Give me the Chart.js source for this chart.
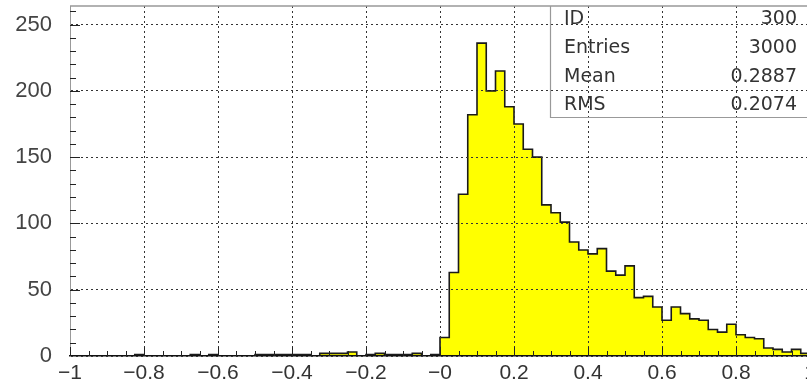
<!DOCTYPE html>
<html>
<head>
<meta charset="utf-8">
<script src="https://cdn.jsdelivr.net/npm/chart.js@4/dist/chart.umd.min.js"></script>
<style>
  html, body { margin: 0; padding: 0; overflow: hidden; background: #fff; }
</style>
</head>
<body>
<canvas id="hist" width="812" height="385"></canvas>
<script>
// histogram 300: 80 bins of 0.025 between -1 and 1
const xLow = -1;
const xHigh = 1;
const binWidth = 0.025;
const counts = [
  0, 0, 0, 0, 0, 0, 0, 1, 0, 0,
  0, 0, 0, 1, 0, 1, 0, 0, 0, 0,
  1, 1, 1, 1, 1, 1, 0, 2, 2, 2,
  3, 0, 1, 2, 1, 1, 1, 2, 0, 1,
  14, 63, 122, 182, 236, 200, 215, 188, 175, 156,
  150, 114, 108, 101, 86, 80, 77, 81, 64, 61,
  68, 44, 45, 37, 27, 37, 32, 28, 27, 20,
  18, 24, 16, 14, 13, 6, 5, 3, 5, 2
];
const xTickValues = [-1, -0.8, -0.6, -0.4, -0.2, 0, 0.2, 0.4, 0.6, 0.8, 1];
const xTickLabels = ['\u22121', '\u22120.8', '\u22120.6', '\u22120.4', '\u22120.2', '\u22120', '0.2', '0.4', '0.6', '0.8', '1'];
const yTickValues = [0, 50, 100, 150, 200, 250];
const yMax = 264;
const statNames = ['ID', 'Entries', 'Mean', 'RMS'];
const statValues = ['300', '3000', '0.2887', '0.2074'];

// step outline points: left edge of every bin, plus the right edge of the last one
const stepData = counts.map((c, i) => ({x: xLow + i * binWidth, y: c}));
stepData.push({x: xHigh, y: counts[counts.length - 1]});

// ticks inside the frame, top frame line and the stats box
const frameAndStats = {
    id: 'frameAndStats',
    afterDraw(chart) {
        const {ctx, chartArea: a, scales: {x, y}} = chart;
        ctx.save();
        ctx.strokeStyle = '#222';
        ctx.lineWidth = 1;
        ctx.beginPath();
        for (let i = 0; i <= 40; i++) {
            const px = Math.round(x.getPixelForValue(xLow + i * 0.05)) + 0.5;
            const len = i % 4 === 0 ? 9 : 5;
            ctx.moveTo(px, a.bottom);
            ctx.lineTo(px, a.bottom - len);
        }
        for (let v = 10; v < yMax; v += 10) {
            const py = Math.round(y.getPixelForValue(v)) + 0.5;
            const len = v % 50 === 0 ? 10 : 6;
            ctx.moveTo(a.left, py);
            ctx.lineTo(a.left + len, py);
        }
        ctx.stroke();

        ctx.strokeStyle = '#999';
        ctx.lineWidth = 1.5;
        ctx.beginPath();
        ctx.moveTo(a.left, a.top);
        ctx.lineTo(a.right, a.top);
        ctx.stroke();

        // stats box (only left and bottom edges are inside the picture)
        const boxLeft = 550.5, boxBottom = 117.5;
        ctx.lineWidth = 1.2;
        ctx.beginPath();
        ctx.moveTo(boxLeft, a.top);
        ctx.lineTo(boxLeft, boxBottom);
        ctx.lineTo(a.right, boxBottom);
        ctx.stroke();

        ctx.fillStyle = '#333';
        ctx.font = '19px "DejaVu Sans"';
        ctx.textBaseline = 'middle';
        const rowY = [19, 48, 77, 105];
        statNames.forEach((name, i) => {
            ctx.textAlign = 'left';
            ctx.fillText(name, 564, rowY[i]);
            ctx.textAlign = 'right';
            ctx.fillText(statValues[i], 797, rowY[i]);
        });
        ctx.restore();
    }
};

new Chart(document.getElementById('hist'), {
    type: 'line',
    data: {
        datasets: [{
            data: stepData,
            stepped: 'before',
            fill: 'origin',
            backgroundColor: '#ffff00',
            borderColor: '#1a1a1a',
            borderWidth: 1.6,
            pointRadius: 0
        }]
    },
    options: {
        responsive: false,
        animation: false,
        layout: { padding: { top: 6, right: 2, left: 0, bottom: 0 } },
        plugins: {
            legend: { display: false },
            tooltip: { enabled: false }
        },
        scales: {
            x: {
                type: 'linear',
                min: xLow,
                max: xHigh,
                afterBuildTicks: s => { s.ticks = xTickValues.map(v => ({value: v})); },
                afterFit: s => { s.height = 29; s.paddingLeft = 0; s.paddingRight = 0; },
                ticks: {
                    autoSkip: false,
                    maxRotation: 0,
                    padding: 5,
                    color: '#333',
                    font: { family: 'Liberation Sans', size: 21 },
                    callback: (v, i) => xTickLabels[i]
                },
                grid: { color: '#333', lineWidth: 1, drawTicks: false, z: 1 },
                border: { color: '#111', width: 1.6, dash: [2, 3], z: 1 }
            },
            y: {
                min: 0,
                max: yMax,
                afterBuildTicks: s => { s.ticks = yTickValues.map(v => ({value: v})); },
                afterFit: s => { s.width = 70; s.paddingTop = 0; s.paddingBottom = 0; },
                ticks: {
                    padding: 18,
                    color: '#444',
                    font: { family: 'Liberation Sans', size: 22 },
                    callback: (v, i) => String(yTickValues[i])
                },
                grid: { color: '#333', lineWidth: 1, drawTicks: false, z: 1 },
                border: { color: '#999', width: 1, dash: [2, 3], z: 1 }
            }
        }
    },
    plugins: [frameAndStats]
});
</script>
</body>
</html>
